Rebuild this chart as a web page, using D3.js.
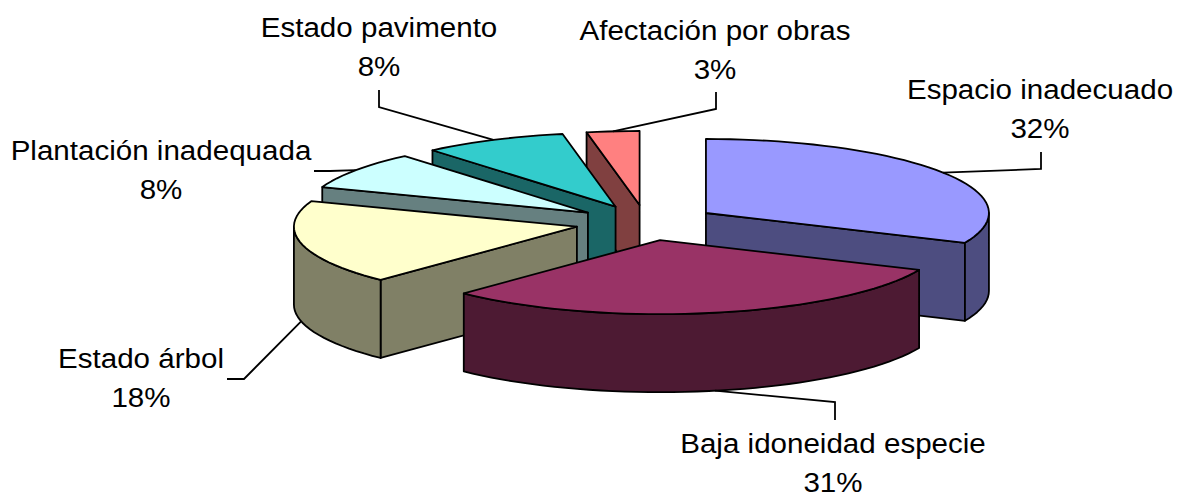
<!DOCTYPE html>
<html><head><meta charset="utf-8">
<script src="https://cdn.jsdelivr.net/npm/d3@7/dist/d3.min.js"></script>
<style>html,body{margin:0;padding:0;background:#fff;overflow:hidden}svg{display:block}text{font-family:"Liberation Sans",Arial,sans-serif;font-size:27px;fill:#000;text-anchor:middle}</style>
</head><body><svg id="c" width="1178" height="495"></svg>
<script>
const categories = ["Espacio inadecuado","Baja idoneidad especie","Estado árbol","Plantación inadequada","Estado pavimento","Afectación por obras"];
const values = [31.6,30.6,18.4,8.2,8.2,3.0];
const topColors = ["#9999FF","#993366","#FFFFCC","#CCFFFF","#33CCCC","#FF8080"];
const sideColors = ["#4D4D80","#4D1A33","#808066","#668080","#1A6666","#804040"];
const drawOrder = [5,4,3,2,0,1];
// label layout: centre x, first baseline; leader elbow and end
const labelPos = [[1040,99],[833,453],[141,368],[161,160],[379,37],[715,40]];
const leaderBend = [[[1041,169],[1041,152]],[[835,402],[835,420]],[[244,379],[227,379]],[[330,171],[314,171]],[[379,107],[379,90]],[[716,109],[716,92]]];
const explodeX = 0.2516, explodeY = 0.24, depth = 78, lineGap = 39, textStretch = 1.095;

const svg = d3.select("#c");
const x = d3.scaleLinear().domain([-1,1]).range([646.3-283,646.3+283]);
const y = d3.scaleLinear().domain([-1,1]).range([222.7-74,222.7+74]);
const arcs = d3.pie().sort(null).value(d=>d)(values);
const line = d3.line();
const rim = (a0,a1,ox,oy)=>{
  const n = Math.max(1,Math.ceil((a1-a0)/(Math.PI/72)));
  return d3.range(n+1).map(i=>{const a=a0+(a1-a0)*i/n;
    return [x(ox+Math.sin(a)),y(oy-Math.cos(a))];});
};
const g = svg.append("g").attr("stroke","#000").attr("stroke-width",1.8).attr("stroke-linejoin","round");
const geo = arcs.map(d=>{const m=(d.startAngle+d.endAngle)/2;
  return {a0:d.startAngle,a1:d.endAngle,m,ox:explodeX*Math.sin(m),oy:-explodeY*Math.cos(m)};});
drawOrder.forEach(i=>{
  const s=geo[i], apex=[x(s.ox),y(s.oy)];
  const top=rim(s.a0,s.a1,s.ox,s.oy);
  const drop=p=>[p[0],p[1]+depth];
  const face=p=>line([apex,p,drop(p),drop(apex)])+"Z";
  // only radial faces turned towards the viewer are drawn
  if(Math.sin(s.a0)<-1e-6) g.append("path").attr("d",face(top[0])).attr("fill",sideColors[i]);
  if(Math.sin(s.a1)>1e-6) g.append("path").attr("d",face(top[top.length-1])).attr("fill",sideColors[i]);
  const lo=Math.max(s.a0,Math.PI/2), hi=Math.min(s.a1,Math.PI*1.5);
  if(hi>lo){
    const r=rim(lo,hi,s.ox,s.oy);
    g.append("path").attr("d",line(r.concat(r.slice().reverse().map(drop)))+"Z").attr("fill",sideColors[i]);
  }
  g.append("path").attr("d",line([apex,...top])+"Z").attr("fill",topColors[i]);
});
// leaders start where the middle of each slice meets its visible edge
geo.forEach((s,i)=>{
  const front=Math.cos(s.m)<-0.05;
  const p=[x(s.ox+Math.sin(s.m)),y(s.oy-Math.cos(s.m))+(front?depth:0)];
  svg.append("path").attr("d",line([p,...leaderBend[i]])).attr("fill","none").attr("stroke","#000").attr("stroke-width",1.8);
  const put=(str,yy)=>svg.append("text").attr("transform",`translate(${labelPos[i][0]},${yy}) scale(${textStretch},1)`).text(str);
  put(categories[i],labelPos[i][1]);
  put(Math.round(values[i])+"%",labelPos[i][1]+lineGap);
});
</script></body></html>
